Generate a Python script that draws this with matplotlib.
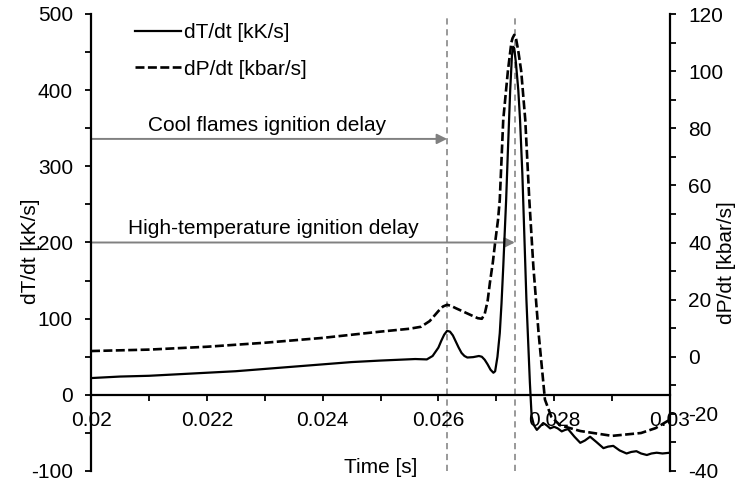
import numpy as np
import matplotlib
matplotlib.use("Agg")
import matplotlib.pyplot as plt
from matplotlib.ticker import MultipleLocator

plt.rcParams["font.family"] = ["Liberation Sans", "DejaVu Sans"]
plt.rcParams["font.size"] = 15
plt.rcParams["axes.unicode_minus"] = False

# dT/dt [kK/s]
t_dT = [0.0200, 0.0205, 0.0210, 0.0215, 0.0220, 0.0225, 0.0230, 0.0235, 0.0240,
        0.0245, 0.0250, 0.0253, 0.0256, 0.02580, 0.02590, 0.02600, 0.02605,
        0.02610, 0.02615, 0.02620, 0.02625, 0.02630, 0.02635, 0.02640, 0.02645,
        0.02650, 0.02660, 0.02670, 0.02675, 0.02680, 0.02685, 0.02690, 0.02695,
        0.02698, 0.02702, 0.02706, 0.02709, 0.02712, 0.02717, 0.02720, 0.02724,
        0.02727, 0.02729, 0.02731, 0.02734, 0.02738, 0.02741, 0.02745, 0.02752,
        0.02758, 0.02761, 0.02765, 0.02770, 0.02775, 0.02781, 0.02787, 0.02793,
        0.02800, 0.02806, 0.02813, 0.02819, 0.02824, 0.02835, 0.02845, 0.02853,
        0.02862, 0.02873, 0.02885, 0.02893, 0.02902, 0.02913, 0.02925, 0.02933,
        0.02942, 0.02950, 0.02960, 0.02968, 0.02977, 0.02987, 0.03000]
dT = [22, 24, 25, 27, 29, 31, 34, 37, 40,
      43, 45, 46, 47, 46.5, 51, 62, 71,
      79, 84, 83, 78, 70, 62, 55, 51,
      49, 49.5, 51, 50, 46, 40, 33, 29,
      31, 50, 81, 120, 168, 256, 320, 400,
      445, 457, 455, 435, 400, 361, 290, 125,
      16, -28, -40, -46, -42, -37, -40, -44,
      -42, -44, -48, -46, -45, -55, -63, -60,
      -55, -62, -70, -68, -67, -73, -77, -75,
      -74, -77, -79, -77, -76, -77, -76]

# dP/dt [kbar/s]
t_dP = [0.0200, 0.0210, 0.0220, 0.0230, 0.0240, 0.0250, 0.0255, 0.0257, 0.02585,
        0.0260, 0.02608, 0.02615, 0.02622, 0.0263, 0.02642, 0.02657, 0.02668,
        0.02675, 0.02680, 0.02685, 0.02689, 0.02694, 0.02698, 0.02703, 0.02706,
        0.02712, 0.02720, 0.02726, 0.02728, 0.02731, 0.02734, 0.02738, 0.02743,
        0.02750, 0.02757, 0.02760, 0.02764, 0.02773, 0.02784, 0.02795, 0.02810,
        0.02845, 0.02900, 0.02950, 0.02975, 0.03000]
dP = [2, 2.5, 3.5, 4.9, 6.6, 8.8, 9.8, 10.5, 12.5,
      16, 17.6, 18.2, 17.8, 17, 15.9, 14.5, 13.5,
      13.3, 15, 19.5, 26, 33, 40, 48, 55,
      83, 100, 110, 111.5, 112.7, 111.5, 107, 100,
      83, 55, 45, 31.6, 8.4, -15, -21, -24,
      -26, -27.7, -26.7, -25, -22]

t_cool = 0.02615
t_high = 0.02732
cool_label = "Cool flames ignition delay"
high_label = "High-temperature ignition delay"

fig = plt.figure(figsize=(7.42, 4.84), dpi=100)
ax = fig.add_axes([91 / 742, 13 / 484, 579 / 742, 457 / 484])
ax2 = ax.twinx()

ax.set_xlim(0.02, 0.03)
ax.set_ylim(-100, 500)
ax2.set_ylim(-40, 120)

# ignition delay markers
for tv in (t_cool, t_high):
    ax.axvline(tv, color="#999999", lw=1.4, dashes=(3.2, 2.4), zorder=1)

arrow = dict(arrowstyle="-|>", color="#808080", lw=1.4, mutation_scale=15,
             shrinkA=0, shrinkB=0)
ax.annotate("", xy=(t_cool, 336), xytext=(0.02, 336), arrowprops=arrow, zorder=2)
ax.annotate("", xy=(t_high, 200), xytext=(0.02, 200), arrowprops=arrow, zorder=2)
ax.text(0.02098, 354, cool_label, ha="left", va="center", fontsize=15)
ax.text(0.02064, 218, high_label, ha="left", va="center", fontsize=15)

l1, = ax.plot(t_dT, dT, color="black", lw=1.6, label="dT/dt [kK/s]", zorder=3)
l2, = ax2.plot(t_dP, dP, color="black", lw=1.9, dashes=(3.4, 1.3),
               label="dP/dt [kbar/s]", zorder=3)

# spines
ax.spines["top"].set_visible(False)
ax.spines["right"].set_visible(False)
ax.spines["bottom"].set_position(("data", 0))
ax2.spines["top"].set_visible(False)
ax2.spines["bottom"].set_visible(False)
ax2.spines["left"].set_visible(False)
for sp in (ax.spines["left"], ax.spines["bottom"], ax2.spines["right"]):
    sp.set_linewidth(1.6)

ax.xaxis.set_major_locator(MultipleLocator(0.002))
ax.xaxis.set_minor_locator(MultipleLocator(0.001))
ax.yaxis.set_major_locator(MultipleLocator(100))
ax.yaxis.set_minor_locator(MultipleLocator(50))
ax2.yaxis.set_major_locator(MultipleLocator(20))
ax2.yaxis.set_minor_locator(MultipleLocator(10))
ax.set_xticks([0.02, 0.022, 0.024, 0.026, 0.028, 0.03])
ax.set_xticklabels(["0.02", "0.022", "0.024", "0.026", "0.028", "0.03"])

ax.tick_params(axis="x", which="both", direction="out", length=4, width=1.3, pad=8)
ax.tick_params(axis="y", which="both", direction="out", length=4, width=1.3, pad=9)
ax2.tick_params(axis="y", which="both", direction="out", length=4, width=1.3, pad=9)

ax.set_ylabel("dT/dt [kK/s]")
ax.yaxis.set_label_coords(-0.105, 0.48)
ax.yaxis.label.set_verticalalignment("center")
ax2.set_ylabel("dP/dt [kbar/s]")
ax2.yaxis.set_label_coords(1.098, 0.455)
ax2.yaxis.label.set_verticalalignment("center")
ax.set_xlabel("Time [s]")
ax.xaxis.set_label_coords(0.5, 0.007)
ax.xaxis.label.set_verticalalignment("center")

ax2.legend([l1, l2], ["dT/dt [kK/s]", "dP/dt [kbar/s]"], loc="upper left",
           bbox_to_anchor=(135 / 742, 1 - 23 / 484), bbox_transform=fig.transFigure,
           frameon=False, borderpad=0, borderaxespad=0, handlelength=2.2,
           handletextpad=0.15, labelspacing=0.85, fontsize=15)

fig.savefig("out.png", dpi=100)
